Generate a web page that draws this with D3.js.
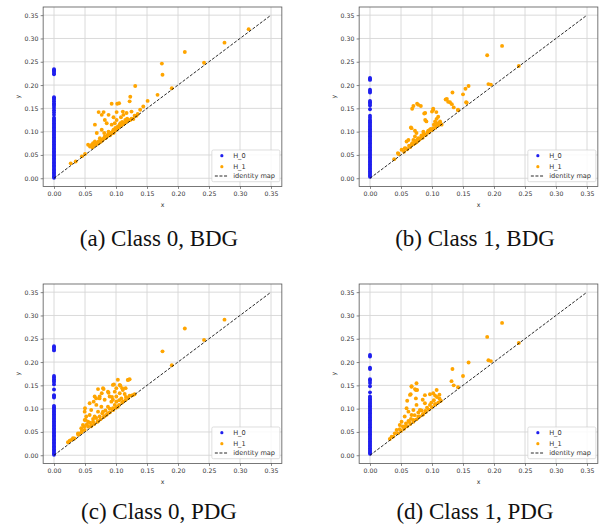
<!DOCTYPE html>
<html><head><meta charset="utf-8">
<script src="https://cdn.jsdelivr.net/npm/d3@7"></script>
<style>body{margin:0;background:#fff}svg{display:block}</style>
</head><body>
<svg id="chart" width="600" height="531"></svg>
<script>
// ---------- data ----------
const xTicks = [0, 0.05, 0.10, 0.15, 0.20, 0.25, 0.30, 0.35];
const yTicks = [0, 0.05, 0.10, 0.15, 0.20, 0.25, 0.30, 0.35];
const legendLabels = ["H_0", "H_1", "identity map"];
const captions = ["(a) Class 0, BDG", "(b) Class 1, BDG", "(c) Class 0, PDG", "(d) Class 1, PDG"];
const identityLine = [[0, 0], [0.35, 0.35]];

// H_0 deaths (births are all 0)
const h0A = [0.001,0.004,0.007,0.010,0.013,0.016,0.019,0.022,0.025,0.028,0.031,0.034,0.037,0.040,0.043,0.046,0.049,0.052,0.055,0.058,0.061,0.064,0.067,0.070,0.073,0.076,0.079,0.082,0.085,0.088,0.091,0.094,0.097,0.100,0.103,0.106,0.109,0.112,0.115,0.118,0.121,0.124,0.127,0.130,0.136,0.141,0.146,0.151,0.155,0.158,0.161,0.165,0.169,0.172,0.174,0.223,0.226,0.229,0.232,0.234];
const h0B = [0.003,0.006,0.009,0.012,0.015,0.018,0.021,0.024,0.027,0.030,0.033,0.036,0.039,0.042,0.045,0.048,0.051,0.054,0.057,0.060,0.063,0.066,0.069,0.072,0.075,0.078,0.081,0.084,0.087,0.090,0.093,0.096,0.099,0.102,0.105,0.108,0.111,0.114,0.117,0.120,0.123,0.125,0.130,0.134,0.148,0.156,0.160,0.163,0.166,0.184,0.187,0.190,0.211,0.213,0.215];
const h0C = [0.001,0.004,0.007,0.010,0.013,0.016,0.019,0.022,0.025,0.028,0.031,0.034,0.037,0.040,0.043,0.046,0.049,0.052,0.055,0.058,0.061,0.064,0.067,0.070,0.073,0.076,0.079,0.082,0.085,0.088,0.091,0.094,0.097,0.100,0.103,0.106,0.124,0.127,0.129,0.141,0.152,0.157,0.160,0.163,0.167,0.170,0.225,0.228,0.231,0.234];
const h0D = [0.003,0.006,0.009,0.012,0.015,0.018,0.021,0.024,0.027,0.030,0.033,0.036,0.039,0.042,0.045,0.048,0.051,0.054,0.057,0.060,0.063,0.066,0.069,0.072,0.075,0.078,0.081,0.084,0.087,0.090,0.093,0.096,0.099,0.102,0.105,0.108,0.111,0.114,0.117,0.120,0.123,0.126,0.135,0.148,0.155,0.160,0.163,0.185,0.188,0.212,0.215];

// H_1 (birth, death)
const h1A = [[0.314,0.320],[0.275,0.291],[0.211,0.271],[0.242,0.248],[0.174,0.246],[0.175,0.222],[0.190,0.193],[0.167,0.179],[0.151,0.166],[0.131,0.198],[0.123,0.175],[0.122,0.165],[0.144,0.154],[0.093,0.160],[0.102,0.160],[0.105,0.161],[0.072,0.142],[0.080,0.142],[0.077,0.136],[0.088,0.136],[0.101,0.142],[0.111,0.143],[0.117,0.140],[0.125,0.143],[0.112,0.136],[0.133,0.134],[0.139,0.147],[0.108,0.131],[0.082,0.125],[0.096,0.131],[0.101,0.125],[0.115,0.125],[0.123,0.125],[0.066,0.115],[0.085,0.118],[0.093,0.115],[0.098,0.118],[0.106,0.115],[0.128,0.127],[0.069,0.097],[0.077,0.104],[0.081,0.097],[0.088,0.100],[0.096,0.104],[0.090,0.093],[0.082,0.090],[0.074,0.086],[0.066,0.079],[0.072,0.079],[0.063,0.075],[0.077,0.082],[0.096,0.097],[0.101,0.104],[0.055,0.072],[0.058,0.068],[0.061,0.072],[0.050,0.052],[0.045,0.047],[0.027,0.032],[0.035,0.036],[0.068,0.072],[0.072,0.075],[0.075,0.078],[0.078,0.081],[0.080,0.085],[0.083,0.086],[0.086,0.090],[0.090,0.092],[0.093,0.096],[0.097,0.100],[0.100,0.104],[0.104,0.108],[0.108,0.112],[0.112,0.116],[0.116,0.120],[0.120,0.124],[0.125,0.128],[0.130,0.134],[0.135,0.138],[0.070,0.076],[0.074,0.080],[0.079,0.084],[0.084,0.088],[0.087,0.094],[0.092,0.098],[0.095,0.101],[0.099,0.108],[0.103,0.111],[0.107,0.118],[0.110,0.121],[0.118,0.128],[0.064,0.070],[0.062,0.066]];
const h1B = [[0.213,0.284],[0.189,0.264],[0.240,0.241],[0.191,0.202],[0.195,0.201],[0.159,0.198],[0.154,0.192],[0.150,0.180],[0.133,0.184],[0.156,0.162],[0.122,0.169],[0.126,0.164],[0.132,0.159],[0.135,0.152],[0.142,0.146],[0.076,0.160],[0.070,0.155],[0.068,0.149],[0.082,0.155],[0.102,0.149],[0.100,0.143],[0.107,0.142],[0.0875,0.139],[0.066,0.109],[0.0725,0.102],[0.124,0.170],[0.129,0.163],[0.155,0.163],[0.142,0.147],[0.078,0.1575],[0.089,0.140],[0.102,0.147],[0.110,0.132],[0.1075,0.1275],[0.089,0.125],[0.091,0.122],[0.105,0.122],[0.113,0.122],[0.1155,0.115],[0.1075,0.113],[0.067,0.1075],[0.102,0.1075],[0.094,0.102],[0.086,0.100],[0.075,0.097],[0.062,0.082],[0.059,0.079],[0.070,0.082],[0.078,0.086],[0.083,0.0895],[0.0725,0.0895],[0.0645,0.068],[0.056,0.0645],[0.051,0.061],[0.046,0.052],[0.039,0.041],[0.045,0.054],[0.0725,0.075],[0.067,0.0717],[0.078,0.081],[0.0886,0.093],[0.0967,0.104],[0.055,0.057],[0.060,0.062],[0.065,0.067],[0.070,0.073],[0.075,0.077],[0.080,0.083],[0.085,0.087],[0.090,0.093],[0.095,0.098],[0.100,0.103],[0.105,0.108],[0.110,0.113],[0.114,0.117],[0.058,0.064],[0.063,0.070],[0.068,0.075],[0.073,0.080],[0.077,0.083],[0.083,0.092],[0.087,0.096],[0.093,0.099],[0.098,0.106],[0.103,0.115],[0.108,0.118],[0.112,0.119]];
const h1C = [[0.275,0.291],[0.211,0.272],[0.242,0.2475],[0.175,0.223],[0.190,0.193],[0.127,0.129],[0.120,0.162],[0.103,0.162],[0.0967,0.152],[0.107,0.149],[0.110,0.144],[0.1155,0.144],[0.071,0.142],[0.080,0.142],[0.050,0.101],[0.064,0.115],[0.068,0.122],[0.0735,0.122],[0.077,0.133],[0.088,0.134],[0.0935,0.125],[0.095,0.119],[0.0225,0.028],[0.028,0.033],[0.033,0.036],[0.039,0.044],[0.044,0.049],[0.049,0.0615],[0.051,0.076],[0.119,0.1615],[0.095,0.151],[0.106,0.151],[0.079,0.144],[0.1005,0.144],[0.111,0.140],[0.087,0.1365],[0.098,0.1365],[0.106,0.133],[0.114,0.1315],[0.0656,0.126],[0.0736,0.126],[0.0897,0.126],[0.1005,0.126],[0.1086,0.122],[0.0817,0.119],[0.0925,0.115],[0.1005,0.115],[0.111,0.115],[0.0575,0.1116],[0.0683,0.108],[0.0764,0.104],[0.087,0.104],[0.095,0.101],[0.103,0.104],[0.0495,0.0936],[0.060,0.097],[0.071,0.0936],[0.079,0.0936],[0.087,0.090],[0.095,0.097],[0.052,0.083],[0.0575,0.0865],[0.0656,0.083],[0.0736,0.083],[0.0817,0.084],[0.0495,0.0757],[0.055,0.072],[0.063,0.072],[0.071,0.073],[0.0467,0.065],[0.055,0.0614],[0.060,0.065],[0.044,0.058],[0.0495,0.0543],[0.0387,0.047],[0.0306,0.0365],[0.0253,0.031],[0.122,0.163],[0.060,0.062],[0.065,0.067],[0.070,0.072],[0.075,0.077],[0.080,0.082],[0.085,0.087],[0.090,0.092],[0.095,0.097],[0.100,0.102],[0.105,0.108],[0.110,0.113],[0.115,0.118],[0.120,0.123],[0.125,0.128],[0.130,0.131],[0.040,0.046],[0.045,0.052],[0.053,0.066],[0.058,0.070],[0.063,0.078],[0.068,0.080],[0.078,0.090],[0.083,0.096],[0.090,0.100],[0.098,0.108],[0.105,0.118],[0.116,0.125],[0.122,0.128]];
const h1D = [[0.213,0.284],[0.189,0.254],[0.240,0.241],[0.191,0.204],[0.195,0.202],[0.159,0.199],[0.150,0.170],[0.133,0.185],[0.1315,0.159],[0.135,0.150],[0.142,0.146],[0.032,0.035],[0.0376,0.040],[0.067,0.147],[0.074,0.140],[0.0656,0.131],[0.074,0.122],[0.0886,0.129],[0.085,0.119],[0.0967,0.131],[0.102,0.133],[0.1075,0.140],[0.105,0.128],[0.112,0.122],[0.114,0.117],[0.075,0.108],[0.0886,0.1116],[0.0967,0.108],[0.105,0.110],[0.059,0.101],[0.062,0.0936],[0.070,0.097],[0.0806,0.097],[0.089,0.095],[0.056,0.083],[0.067,0.0865],[0.078,0.083],[0.086,0.0885],[0.051,0.072],[0.062,0.0736],[0.070,0.0757],[0.048,0.065],[0.056,0.0614],[0.043,0.0543],[0.040,0.047],[0.035,0.040],[0.0645,0.1295],[0.060,0.117],[0.0725,0.142],[0.076,0.140],[0.075,0.1545],[0.067,0.148],[0.045,0.047],[0.050,0.052],[0.055,0.057],[0.060,0.062],[0.065,0.067],[0.070,0.072],[0.075,0.077],[0.080,0.083],[0.085,0.087],[0.090,0.093],[0.095,0.098],[0.100,0.103],[0.105,0.108],[0.110,0.113],[0.114,0.117],[0.048,0.056],[0.053,0.062],[0.058,0.068],[0.063,0.072],[0.066,0.078],[0.072,0.086],[0.078,0.092],[0.083,0.096],[0.092,0.102],[0.099,0.113],[0.103,0.118],[0.108,0.125],[0.112,0.130]];

// ---------- layout ----------
const W = 238.7, H = 179.4;
const panels = [
  {h0: h0A, h1: h1A, cap: captions[0], left: 43.15, top: 7, capX: 159, capY: 246},
  {h0: h0B, h1: h1B, cap: captions[1], left: 359.15, top: 7, capX: 475, capY: 246},
  {h0: h0C, h1: h1C, cap: captions[2], left: 43.15, top: 284, capX: 159, capY: 519},
  {h0: h0D, h1: h1D, cap: captions[3], left: 359.15, top: 284, capX: 475, capY: 519}
];
const BLUE = "#1f1fee", ORANGE = "#ffa500";
const tickFont = "DejaVu Sans, sans-serif";

const svg = d3.select("#chart");
const x = d3.scaleLinear().domain([-0.0175, 0.3675]).range([0, W]);
const y = d3.scaleLinear().domain([-0.0175, 0.3675]).range([H, 0]);
const fmt = d3.format(".2f");

panels.forEach(p => {
  const g = svg.append("g").attr("transform", `translate(${p.left},${p.top})`);
  // grid
  g.append("g").selectAll("line").data(xTicks).join("line")
    .attr("x1", d => x(d)).attr("x2", d => x(d)).attr("y1", 0).attr("y2", H)
    .attr("stroke", "#d6d6d6").attr("stroke-width", 0.9);
  g.append("g").selectAll("line").data(yTicks).join("line")
    .attr("y1", d => y(d)).attr("y2", d => y(d)).attr("x1", 0).attr("x2", W)
    .attr("stroke", "#d6d6d6").attr("stroke-width", 0.9);
  // axes
  const ax = g.append("g").attr("transform", `translate(0,${H})`)
    .call(d3.axisBottom(x).tickValues(xTicks).tickFormat(fmt).tickSize(2.5).tickPadding(2.5));
  const ay = g.append("g")
    .call(d3.axisLeft(y).tickValues(yTicks).tickFormat(fmt).tickSize(2.5).tickPadding(2.3));
  [ax, ay].forEach(a => {
    a.select(".domain").remove();
    a.selectAll("line").attr("stroke", "#555").attr("stroke-width", 0.7);
    a.selectAll("text").attr("fill", "#333").style("font-family", tickFont).style("font-size", "6.2px");
  });
  // points
  g.append("g").selectAll("circle").data(p.h0).join("circle")
    .attr("cx", x(0)).attr("cy", d => y(d)).attr("r", 1.95).attr("fill", BLUE);
  g.append("g").selectAll("circle").data(p.h1).join("circle")
    .attr("cx", d => x(d[0])).attr("cy", d => y(d[1])).attr("r", 1.95).attr("fill", ORANGE);
  // identity
  g.append("path").datum(identityLine)
    .attr("d", d3.line().x(d => x(d[0])).y(d => y(d[1])))
    .attr("stroke", "#111").attr("stroke-width", 0.9).attr("stroke-dasharray", "3,1.6").attr("fill", "none");
  // frame
  g.append("rect").attr("x", 0).attr("y", 0).attr("width", W).attr("height", H)
    .attr("fill", "none").attr("stroke", "#555").attr("stroke-width", 0.8);
  // axis labels
  g.append("text").attr("x", W / 2).attr("y", 200).attr("text-anchor", "middle")
    .style("font-family", tickFont).style("font-size", "6.2px").attr("fill", "#333").text("x");
  g.append("text").attr("transform", `translate(-23.5,${H / 2}) rotate(-90)`).attr("text-anchor", "middle")
    .style("font-family", tickFont).style("font-size", "6.2px").attr("fill", "#333").text("y");
  // legend
  const lg = g.append("g").attr("transform", `translate(${W - 70},${H - 36.4})`);
  lg.append("rect").attr("width", 68).attr("height", 31.7).attr("rx", 1.5)
    .attr("fill", "#fff").attr("fill-opacity", 0.85).attr("stroke", "#d0d0d0").attr("stroke-width", 0.7);
  const ly = [5.7, 16.7, 26];
  lg.append("circle").attr("cx", 10).attr("cy", ly[0]).attr("r", 1.6).attr("fill", BLUE);
  lg.append("circle").attr("cx", 10).attr("cy", ly[1]).attr("r", 1.6).attr("fill", ORANGE);
  lg.append("line").attr("x1", 3).attr("x2", 16).attr("y1", ly[2]).attr("y2", ly[2])
    .attr("stroke", "#111").attr("stroke-width", 0.9).attr("stroke-dasharray", "3,1.6");
  lg.selectAll("text.l").data(legendLabels).join("text").attr("class", "l")
    .attr("x", 21.3).attr("y", (d, i) => ly[i]).attr("dy", "0.35em")
    .style("font-family", tickFont).style("font-size", "6.6px").attr("fill", "#333").text(d => d);
  // caption
  svg.append("text").attr("x", p.capX).attr("y", p.capY).attr("text-anchor", "middle")
    .attr("font-family", "Liberation Serif, Times New Roman, serif").style("font-size", "23px")
    .attr("fill", "#111").text(p.cap);
});
</script>
</body></html>
